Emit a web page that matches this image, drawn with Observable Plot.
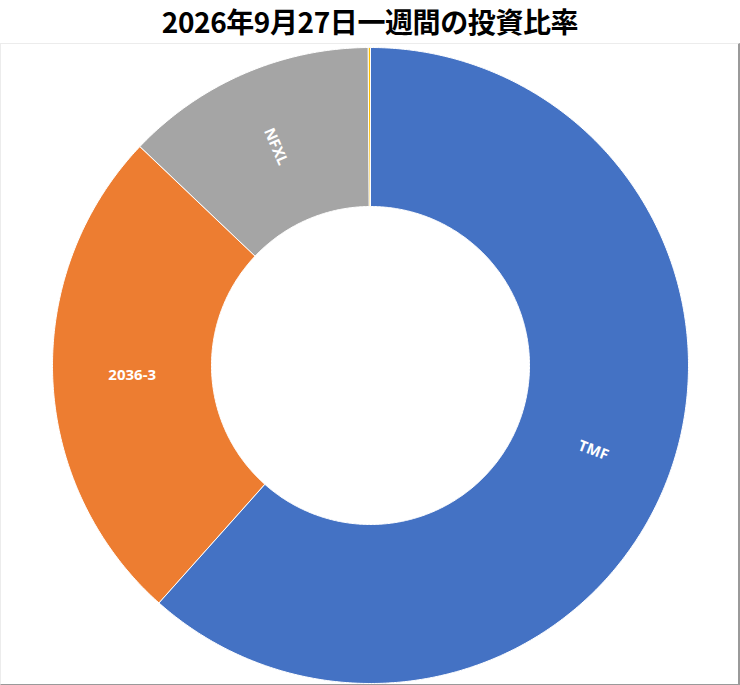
<!DOCTYPE html>
<html>
<head>
<meta charset="utf-8">
<script src="https://cdn.jsdelivr.net/npm/d3@7"></script>
<script src="https://cdn.jsdelivr.net/npm/@observablehq/plot@0.6"></script>
<style>
  html, body { margin: 0; padding: 0; background: #fff; }
  #title {
    height: 43px; width: 740px; text-align: center;
    font-family: "Noto Sans CJK JP", sans-serif; font-weight: 700;
    font-size: 28px; line-height: 43px; color: #000; letter-spacing: -0.4px;
  }
  #frame {
    width: 737px; height: 640px;
    border-top: 1px solid #ececec; border-left: 1px solid #ececec;
    border-right: 2px solid #9a9a9a; border-bottom: 1px solid #9a9a9a;
  }
  #frame svg { display: block; }
</style>
</head>
<body>
<div id="title">2026年9月27日一週間の投資比率</div>
<div id="frame"></div>
<script>
// ---- data ----
const names = ["TMF", "2036-3", "NFXL", "その他"];
const values = [61.6, 25.5, 12.8, 0.1];
const showLabel = [true, true, true, false];
// ---- styles ----
const colors = ["#4472C4", "#ED7D31", "#A5A5A5", "#FFC000"];
const innerRatio = 0.5;

const total = d3.sum(values);
const pts = [];
const labels = [];
let start = 0;
names.forEach((name, i) => {
  const sweep = values[i] / total * 2 * Math.PI;
  const a0 = start, a1 = start + sweep;
  const n = Math.max(2, Math.ceil((a1 - a0) / (Math.PI / 360)));
  const ring = [];
  for (let k = 0; k <= n; k++) { const a = a0 + (a1 - a0) * k / n; ring.push([Math.sin(a), Math.cos(a)]); }
  for (let k = n; k >= 0; k--) { const a = a0 + (a1 - a0) * k / n; ring.push([innerRatio * Math.sin(a), innerRatio * Math.cos(a)]); }
  ring.forEach(([x, y]) => pts.push({name, x, y}));
  const mid = (a0 + a1) / 2;
  const rl = (1 + innerRatio) / 2;
  let rot = mid * 180 / Math.PI - 90;
  while (rot > 90) rot -= 180;
  while (rot <= -90) rot += 180;
  if (Math.abs(rot) < 5) rot = 0;
  if (showLabel[i]) labels.push({name, x: rl * Math.sin(mid), y: rl * Math.cos(mid), rot});
  start = a1;
});

const chart = Plot.plot({
  width: 737, height: 640,
  marginLeft: 51, marginRight: 50, marginTop: 3, marginBottom: 1,
  x: {domain: [-1, 1], axis: null},
  y: {domain: [-1, 1], axis: null},
  color: {domain: names, range: colors},
  style: {background: "white"},
  marks: [
    Plot.line(pts, {x: "x", y: "y", z: "name", fill: "name", stroke: "white", strokeWidth: 1, curve: "linear-closed"}),
    Plot.text(labels, {x: "x", y: "y", text: "name", rotate: "rot", fill: "white",
      fontSize: 15, fontWeight: "bold", fontFamily: "Open Sans, sans-serif"})
  ]
});
document.getElementById("frame").appendChild(chart);
</script>
</body>
</html>
